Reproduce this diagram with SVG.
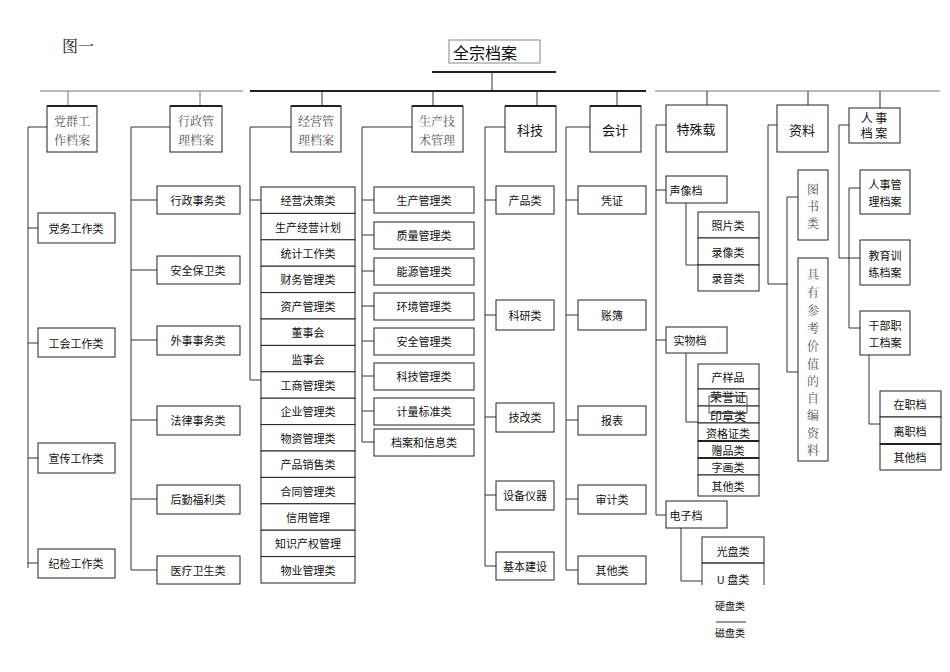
<svg xmlns="http://www.w3.org/2000/svg" width="950" height="672" viewBox="0 0 950 672">
<style>
.b{fill:#fff;stroke:#222;stroke-width:1}
.t{fill:none;stroke:#222;stroke-width:2}
.l{fill:none;stroke:#333;stroke-width:1}
.g{fill:none;stroke:#777;stroke-width:1}
text{font-family:"Noto Sans CJK SC","Liberation Sans",sans-serif;font-size:11px;fill:#111;text-anchor:middle;dominant-baseline:central}
.s{font-family:"Noto Serif CJK SC","Noto Sans CJK SC",serif;fill:#555;font-size:12px}
.h{font-size:13px}
</style>
<rect width="950" height="672" fill="#fff"/>
<text x="78" y="45" class="s" style="font-size:16px;fill:#222">图一</text>
<g id="root"><rect x="449" y="40" width="91" height="23" fill="#fff" stroke="#888"/><text x="485" y="52" style="font-size:16px;">全宗档案</text></g>
<g id="connectors">
<path class="t" d="M432 72H556"/><path class="l" d="M492 72V91"/>
<path class="g" d="M40 91H243M655 91H940"/><path class="t" d="M250 91H646"/>
<path class="g" d="M68 91V106M200 91V106"/>
<path class="l" d="M322 91V106M433 91V106M537 91V106M617 91V106M707 91V105M808 91V105M880 91V108"/>
<path class="l" d="M47 127H28V568M28 228H38M28 343H38M28 458H38M28 563H38"/>
<path class="l" d="M170 127H131V570M131 200H157M131 270H157M131 340H157M131 420H157M131 499H157M131 570H157"/>
<path class="l" d="M291 127H250V380H261M250 200H261"/>
<path class="l" d="M412 127H362V442H374M362 200H374M362 235H374M362 271H374M362 306H374M362 341H374M362 376H374M362 411H374"/>
<path class="l" d="M505 127H485V566H496M485 200H496M485 315H496M485 417H496M485 495H496"/>
<path class="l" d="M590 127H566V570H578M566 200H578M566 315H578M566 420H578M566 499H578"/>
<path class="l" d="M666 125H656V515H666M656 190H666M656 340H666"/>
<path class="l" d="M686 203V265H698M686 353V422H698M681 528V581H702"/>
<path class="l" d="M777 125H768V284H788M787 197V372M787 197H798M787 372H798"/>
<path class="l" d="M849 125H839V258H860M849 188V328M849 188H860M849 328H860M869 355V424H880"/>
</g>
<g id="top-nodes">
<g id="n1"><rect class="b" x="47" y="106" width="50" height="46"/><path class="t" d="M47 106H97"/><text class="s" x="72" y="120">党群工</text><text class="s" x="72" y="139">作档案</text></g>
<g id="n2"><rect class="b" x="170" y="106" width="52" height="46"/><path class="t" d="M170 106H222"/><text class="s" x="196" y="120">行政管</text><text class="s" x="196" y="139">理档案</text></g>
<g id="n3"><rect class="b" x="291" y="106" width="50" height="46"/><path class="t" d="M291 106H341"/><text class="s" x="316" y="120">经营管</text><text class="s" x="316" y="139">理档案</text></g>
<g id="n4"><rect class="b" x="412" y="106" width="51" height="46"/><path class="t" d="M412 106H463"/><text class="s" x="437" y="120">生产技</text><text class="s" x="437" y="139">术管理</text></g>
<g id="n5"><rect class="b" x="505" y="106" width="51" height="46"/><path class="t" d="M505 106H556"/><text class="h" x="530" y="129">科技</text></g>
<g id="n6"><rect class="b" x="590" y="106" width="51" height="46"/><path class="t" d="M590 106H641"/><text class="h" x="615" y="129">会计</text></g>
<g id="n7"><rect class="b" x="666" y="105" width="61" height="47"/><text class="h" x="696" y="128">特殊载</text></g>
<g id="n8"><rect class="b" x="777" y="105" width="51" height="47"/><text class="h" x="802" y="129">资料</text></g>
<g id="n9"><rect class="b" x="849" y="108" width="51" height="35"/><text x="874" y="117" style="font-size:12px">人 事</text><text x="874" y="132" style="font-size:12px">档 案</text></g>
</g>
<g id="col1">
<rect class="b" x="38" y="213" width="77" height="30"/><text x="76" y="228">党务工作类</text>
<rect class="b" x="38" y="328" width="77" height="29"/><text x="76" y="343">工会工作类</text>
<rect class="b" x="38" y="443" width="77" height="30"/><text x="76" y="458">宣传工作类</text>
<rect class="b" x="38" y="549" width="77" height="29"/><text x="76" y="563">纪检工作类</text>
</g>
<g id="col2">
<rect class="b" x="157" y="186" width="83" height="28"/><text x="198" y="200">行政事务类</text>
<rect class="b" x="157" y="256" width="83" height="28"/><text x="198" y="270">安全保卫类</text>
<rect class="b" x="157" y="326" width="83" height="29"/><text x="198" y="340">外事事务类</text>
<rect class="b" x="157" y="406" width="83" height="29"/><text x="198" y="420">法律事务类</text>
<rect class="b" x="157" y="485" width="83" height="29"/><text x="198" y="499">后勤福利类</text>
<rect class="b" x="157" y="556" width="83" height="28"/><text x="198" y="570">医疗卫生类</text>
</g>
<g id="col3">
<rect class="b" x="261" y="187" width="94" height="26.4"/><text x="308" y="200">经营决策类</text>
<rect class="b" x="261" y="213.4" width="94" height="26.4"/><text x="308" y="226.6">生产经营计划</text>
<rect class="b" x="261" y="239.8" width="94" height="26.4"/><text x="308" y="253">统计工作类</text>
<rect class="b" x="261" y="266.2" width="94" height="26.4"/><text x="308" y="279.4">财务管理类</text>
<rect class="b" x="261" y="292.6" width="94" height="26.4"/><text x="308" y="305.8">资产管理类</text>
<rect class="b" x="261" y="319" width="94" height="26.4"/><text x="308" y="332.2">董事会</text>
<rect class="b" x="261" y="345.4" width="94" height="26.4"/><text x="308" y="358.6">监事会</text>
<rect class="b" x="261" y="371.8" width="94" height="26.4"/><text x="308" y="385">工商管理类</text>
<rect class="b" x="261" y="398.2" width="94" height="26.4"/><text x="308" y="411.4">企业管理类</text>
<rect class="b" x="261" y="424.6" width="94" height="26.4"/><text x="308" y="437.8">物资管理类</text>
<rect class="b" x="261" y="451" width="94" height="26.4"/><text x="308" y="464.2">产品销售类</text>
<rect class="b" x="261" y="477.4" width="94" height="26.4"/><text x="308" y="490.6">合同管理类</text>
<rect class="b" x="261" y="503.8" width="94" height="26.4"/><text x="308" y="517">信用管理</text>
<rect class="b" x="261" y="530.2" width="94" height="26.4"/><text x="308" y="543.4">知识产权管理</text>
<rect class="b" x="261" y="556.6" width="94" height="26.4"/><text x="308" y="569.8">物业管理类</text>
</g>
<g id="col4">
<rect class="b" x="374" y="187" width="100" height="26"/><text x="424" y="200">生产管理类</text>
<rect class="b" x="374" y="222" width="100" height="27"/><text x="424" y="235">质量管理类</text>
<rect class="b" x="374" y="258" width="100" height="27"/><text x="424" y="271">能源管理类</text>
<rect class="b" x="374" y="293" width="100" height="27"/><text x="424" y="306">环境管理类</text>
<rect class="b" x="374" y="328" width="100" height="27"/><text x="424" y="341">安全管理类</text>
<rect class="b" x="374" y="363" width="100" height="27"/><text x="424" y="376">科技管理类</text>
<rect class="b" x="374" y="398" width="100" height="27"/><text x="424" y="411">计量标准类</text>
<rect class="b" x="374" y="429" width="100" height="27"/><text x="424" y="442">档案和信息类</text>
</g>
<g id="col5">
<rect class="b" x="496" y="186" width="58" height="28"/><text x="525" y="200">产品类</text>
<rect class="b" x="496" y="300" width="58" height="30"/><text x="525" y="315">科研类</text>
<rect class="b" x="496" y="403" width="58" height="29"/><text x="525" y="417">技改类</text>
<rect class="b" x="496" y="481" width="58" height="29"/><text x="525" y="495">设备仪器</text>
<rect class="b" x="496" y="552" width="58" height="28"/><text x="525" y="566">基本建设</text>
</g>
<g id="col6">
<rect class="b" x="578" y="186" width="68" height="28"/><text x="612" y="200">凭证</text>
<rect class="b" x="578" y="300" width="68" height="30"/><text x="612" y="315">账簿</text>
<rect class="b" x="578" y="406" width="68" height="29"/><text x="612" y="420">报表</text>
<rect class="b" x="578" y="485" width="68" height="29"/><text x="612" y="499">审计类</text>
<rect class="b" x="578" y="556" width="68" height="28"/><text x="612" y="570">其他类</text>
</g>
<g id="col7">
<rect class="b" x="666" y="176" width="61" height="27"/><text x="686" y="190">声像档</text>
<rect class="b" x="698" y="212" width="61" height="26"/><text x="728" y="225">照片类</text>
<rect class="b" x="698" y="238" width="61" height="27"/><text x="728" y="252">录像类</text>
<rect class="b" x="698" y="265" width="61" height="26"/><text x="728" y="278">录音类</text>
<rect class="b" x="666" y="327" width="61" height="26"/><text x="690" y="340">实物档</text>
<rect class="b" x="698" y="364" width="61" height="25"/><text x="728" y="377">产样品</text>
<rect class="b" x="698" y="389" width="61" height="17"/><text x="728" y="396" style="font-size:12px">荣誉证</text>
<rect class="b" x="698" y="406" width="61" height="17" fill="none"/><text x="728" y="415" style="font-size:12px">印章类</text>
<rect x="709" y="396" width="38" height="17" fill="none" stroke="#555"/>
<path class="l" d="M712 396H746M712 413H746"/>
<rect class="b" x="698" y="423" width="61" height="18"/><text x="728" y="433">资格证类</text>
<rect class="b" x="698" y="441" width="61" height="17"/><text x="728" y="450">赠品类</text>
<rect class="b" x="698" y="458" width="61" height="17"/><text x="728" y="467">字画类</text>
<rect class="b" x="698" y="475" width="61" height="21"/><text x="728" y="486">其他类</text>
<path class="t" d="M698 441H759M698 458H759"/>
<rect class="b" x="666" y="501" width="61" height="27"/><text x="686" y="515">电子档</text>
<rect class="b" x="702" y="537" width="62" height="26"/><text x="733" y="551">光盘类</text>
<path class="l" d="M702 563V585M764 563V585M702 563H764"/><text x="733" y="579">U 盘类</text>
<text x="730" y="605" style="font-size:10px">硬盘类</text>
<path class="l" d="M716 622H746"/><text x="730" y="632" style="font-size:10px">磁盘类</text>
</g>
<g id="col8">
<rect class="b" x="798" y="170" width="30" height="70"/><text class="s" x="813" y="188">图</text><text class="s" x="813" y="205">书</text><text class="s" x="813" y="222">类</text>
<rect class="b" x="798" y="258" width="30" height="203"/>
<text class="s" x="813" y="273">具</text><text class="s" x="813" y="291">有</text><text class="s" x="813" y="309">参</text><text class="s" x="813" y="327">考</text><text class="s" x="813" y="345">价</text><text class="s" x="813" y="363">值</text><text class="s" x="813" y="380">的</text><text class="s" x="813" y="397">自</text><text class="s" x="813" y="414">编</text><text class="s" x="813" y="432">资</text><text class="s" x="813" y="449">料</text>
</g>
<g id="col9">
<rect class="b" x="860" y="170" width="50" height="44"/><text x="885" y="184">人事管</text><text x="885" y="201">理档案</text>
<rect class="b" x="860" y="240" width="50" height="45"/><text x="885" y="255">教育训</text><text x="885" y="272">练档案</text>
<rect class="b" x="860" y="311" width="50" height="44"/><text x="885" y="325">干部职</text><text x="885" y="342">工档案</text>
<rect class="b" x="880" y="391" width="61" height="26"/><text x="910" y="404">在职档</text>
<rect class="b" x="880" y="417" width="61" height="27"/><text x="910" y="431">离职档</text>
<rect class="b" x="880" y="444" width="61" height="26"/><text x="910" y="457">其他档</text>
<path class="t" d="M880 444H941"/>
</g>
</svg>
